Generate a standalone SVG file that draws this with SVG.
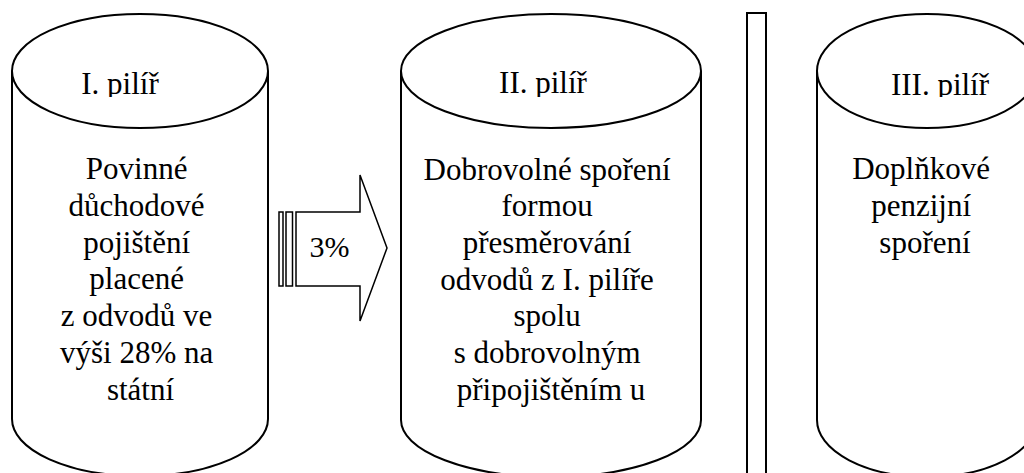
<svg xmlns="http://www.w3.org/2000/svg" width="1024" height="473" viewBox="0 0 1024 473">
<style>
.shape{fill:#fff;stroke:#000;stroke-width:2}
.arrow{fill:#fff;stroke:#000;stroke-width:1.5}
.t{font-family:"Liberation Serif","Times New Roman",serif;font-size:31px;fill:#000;text-anchor:middle}
</style>
<defs>
<clipPath id="titleClip"><rect x="0" y="0" width="1024" height="97"/></clipPath>
</defs>
<rect width="1024" height="473" fill="#fff"/>
<g id="pilir1">
<path class="shape" d="M12,71 L12,419 A128,57 0 0 0 268,419 L268,71"/>
<ellipse class="shape" cx="140" cy="71" rx="128" ry="57"/>
<text class="t" x="120" y="94" clip-path="url(#titleClip)">I. pilíř</text>
<text class="t" x="140.5">
<tspan x="140.5" y="179">Povinné</tspan>
<tspan x="140.5" y="216">důchodové</tspan>
<tspan x="140.5" y="253">pojištění</tspan>
<tspan x="140.5" y="289">placené</tspan>
<tspan x="140.5" y="326">z odvodů ve</tspan>
<tspan x="140.5" y="363">výši 28% na</tspan>
<tspan x="140.5" y="400">státní</tspan>
</text>
</g>
<g id="arrow-3pct">
<rect class="arrow" x="279" y="212" width="4" height="74"/>
<rect class="arrow" x="286" y="212" width="6.5" height="74"/>
<path class="arrow" d="M296,212 L360,212 L360,175 L387,248 L360,321 L360,286 L296,286 Z"/>
<text class="t" x="329.5" y="257" style="font-size:30px">3%</text>
</g>
<g id="pilir2">
<path class="shape" d="M401,71 L401,420 A150,57 0 0 0 701,420 L701,71"/>
<ellipse class="shape" cx="551" cy="71" rx="150" ry="57"/>
<text class="t" x="543" y="93" clip-path="url(#titleClip)">II. pilíř</text>
<text class="t">
<tspan x="551" y="180">Dobrovolné spoření</tspan>
<tspan x="551" y="216">formou</tspan>
<tspan x="551" y="253">přesměrování</tspan>
<tspan x="551" y="290">odvodů z I. pilíře</tspan>
<tspan x="551" y="326">spolu</tspan>
<tspan x="551" y="363">s dobrovolným</tspan>
<tspan x="551" y="400">připojištěním u</tspan>
</text>
</g>
<g id="divider">
<rect class="shape" x="747" y="13" width="19" height="480"/>
</g>
<g id="pilir3">
<path class="shape" d="M817,71 L817,420 A110,57 0 0 0 1037,420 L1037,71"/>
<ellipse class="shape" cx="927" cy="71" rx="110" ry="57"/>
<text class="t" x="940" y="95" clip-path="url(#titleClip)">III. pilíř</text>
<text class="t">
<tspan x="925" y="179">Doplňkové</tspan>
<tspan x="925" y="216">penzijní</tspan>
<tspan x="925" y="253">spoření</tspan>
</text>
</g>
<g id="connectors"/>
</svg>
